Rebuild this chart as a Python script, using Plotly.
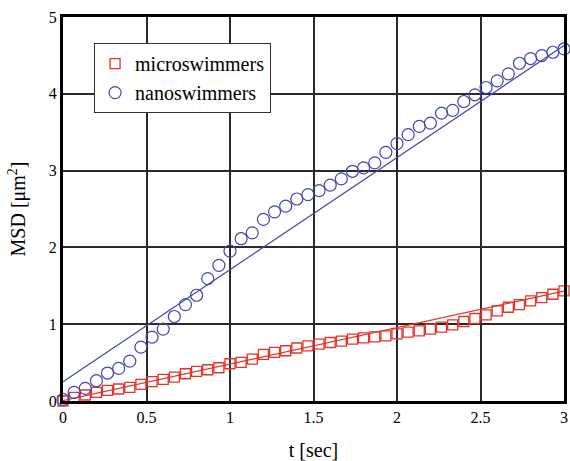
import plotly.graph_objects as go

t = [i / 15 for i in range(46)]

micro_msd = [0.0, 0.048, 0.078, 0.113, 0.139, 0.156, 0.177, 0.216, 0.251, 0.281,
             0.312, 0.355, 0.385, 0.407, 0.433, 0.485, 0.502, 0.545, 0.606, 0.632,
             0.654, 0.69, 0.719, 0.740, 0.762, 0.779, 0.805, 0.823, 0.835, 0.848,
             0.874, 0.896, 0.913, 0.935, 0.961, 0.991, 1.035, 1.074, 1.121, 1.173,
             1.221, 1.255, 1.303, 1.346, 1.390, 1.433]

nano_msd = [0.02, 0.113, 0.165, 0.264, 0.364, 0.424, 0.519, 0.701, 0.831, 0.935,
            1.100, 1.255, 1.377, 1.593, 1.766, 1.952, 2.113, 2.19, 2.364, 2.463,
            2.537, 2.63, 2.688, 2.740, 2.81, 2.892, 2.991, 3.035, 3.10, 3.238,
            3.351, 3.468, 3.576, 3.619, 3.749, 3.784, 3.90, 3.987, 4.082, 4.169,
            4.26, 4.398, 4.459, 4.498, 4.541, 4.584]

fit_t = [0, 3]
micro_fit = [0.005, 1.43]
nano_fit = [0.25, 4.63]

x_ticks = [0, 0.5, 1, 1.5, 2, 2.5, 3]
x_tick_text = ["0", "0.5", "1", "1.5", "2", "2.5", "3"]
y_ticks = [0, 1, 2, 3, 4, 5]

RED = "#e3342b"
BLUE = "#4048b2"
FONT = "Liberation Serif, Times New Roman, serif"

fig = go.Figure()
fig.add_trace(go.Scatter(x=fit_t, y=micro_fit, mode="lines",
                         line=dict(color=RED, width=1.2), showlegend=False))
fig.add_trace(go.Scatter(x=fit_t, y=nano_fit, mode="lines",
                         line=dict(color=BLUE, width=1.2), showlegend=False))
fig.add_trace(go.Scatter(x=t, y=micro_msd, mode="markers", name="microswimmers",
                         marker=dict(symbol="square-open", size=10, color=RED,
                                     line=dict(width=1.3, color=RED)),
                         cliponaxis=False))
fig.add_trace(go.Scatter(x=t, y=nano_msd, mode="markers", name="nanoswimmers",
                         marker=dict(symbol="circle-open", size=12, color=BLUE,
                                     line=dict(width=1.2, color=BLUE)),
                         cliponaxis=False))

fig.update_layout(
    width=570, height=461,
    margin=dict(l=63, r=2, t=17, b=59),
    paper_bgcolor="white", plot_bgcolor="white",
    font=dict(family=FONT, size=17, color="black"),
    legend=dict(x=0.062, y=0.932, xanchor="left", yanchor="top",
                bgcolor="white", bordercolor="#333333", borderwidth=1,
                font=dict(family=FONT, size=20), itemwidth=30,
                tracegroupgap=0),
    xaxis=dict(range=[0, 3], tickvals=x_ticks, ticktext=x_tick_text,
               showgrid=True, gridcolor="#2a2a2a", gridwidth=1.5,
               showline=True, linecolor="black", linewidth=3, mirror=True,
               zeroline=False, ticks="", ticklabeloverflow="allow",
               tickfont=dict(family=FONT, size=16),
               title=dict(text="t [sec]", font=dict(family=FONT, size=20), standoff=19)),
    yaxis=dict(range=[0, 5], tickvals=y_ticks,
               showgrid=True, gridcolor="#2a2a2a", gridwidth=1.5,
               showline=True, linecolor="black", linewidth=3, mirror=True,
               zeroline=False, ticks="", ticklabeloverflow="allow",
               tickfont=dict(family=FONT, size=16),
               title=dict(text="MSD [μm<sup>2</sup>]", font=dict(family=FONT, size=20), standoff=18)),
)

fig.write_html("out.html", config={"displayModeBar": False},
               post_script="document.body.style.margin='0';document.body.style.overflow='hidden';")
